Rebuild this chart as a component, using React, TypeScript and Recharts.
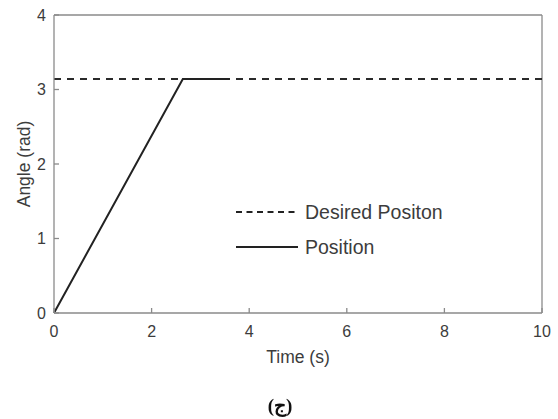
import React from "react";
import { LineChart, Line, XAxis, YAxis, ReferenceLine, Legend } from "recharts";

const xTicks = [0, 2, 4, 6, 8, 10];
const yTicks = [0, 1, 2, 3, 4];
const desiredT = [0, 10];
const desiredValue = [3.1416, 3.1416];
const positionT = [0, 2.64, 3.6];
const positionValue = [0, 3.1416, 3.1416];
const seriesNames = ["Desired Positon", "Position"];

const desiredData = desiredT.map((t, i) => ({ t, v: desiredValue[i] }));
const positionData = positionT.map((t, i) => ({ t, v: positionValue[i] }));

const AXIS = "#8a8a8a";
const TEXT = "#3c3c3c";
const FONT = "'Liberation Sans', Arial, sans-serif";

const XLabel = () => (
  <text x={298} y={363} textAnchor="middle" fontSize={17.5} fill={TEXT} fontFamily={FONT}>
    Time (s)
  </text>
);
const YLabel = () => (
  <text
    x={24}
    y={164}
    textAnchor="middle"
    fontSize={17.5}
    fill={TEXT}
    fontFamily={FONT}
    transform="rotate(-90 24 164)"
    dy={6}
  >
    Angle (rad)
  </text>
);

const LegendBox = () => (
  <svg width={240} height={70} style={{ display: "block" }}>
    <line x1={6} y1={17} x2={68} y2={17} stroke="#222" strokeWidth={2} strokeDasharray="6 4.5" />
    <text x={75} y={24} fontSize={19.5} fill={TEXT} fontFamily={FONT}>
      {seriesNames[0]}
    </text>
    <line x1={6} y1={52} x2={68} y2={52} stroke="#222" strokeWidth={2} />
    <text x={75} y={59} fontSize={19.5} fill={TEXT} fontFamily={FONT}>
      {seriesNames[1]}
    </text>
  </svg>
);

export default function App() {
  return (
    <div style={{ position: "fixed", left: 0, top: 0, width: 558, height: 419, background: "#fff" }}>
      <LineChart width={558} height={419} margin={{ top: 15, right: 16, left: 0, bottom: 0 }}>
        <XAxis
          dataKey="t"
          type="number"
          domain={[0, 10]}
          ticks={xTicks}
          allowDuplicatedCategory={false}
          height={106}
          stroke={AXIS}
          strokeWidth={1.3}
          tickSize={-5}
          tickMargin={18}
          tick={{ fill: TEXT, fontSize: 16, fontFamily: FONT }}
          label={<XLabel />}
        />
        <YAxis
          type="number"
          domain={[0, 4]}
          ticks={yTicks}
          width={54}
          stroke={AXIS}
          strokeWidth={1.3}
          tickSize={-5}
          tickMargin={13}
          tick={{ fill: TEXT, fontSize: 16, fontFamily: FONT }}
          label={<YLabel />}
        />
        <ReferenceLine y={4} stroke={AXIS} strokeWidth={1.3} />
        <ReferenceLine x={10} stroke={AXIS} strokeWidth={1.3} />
        <Line
          data={desiredData}
          dataKey="v"
          name={seriesNames[0]}
          stroke="#2a2a2a"
          strokeWidth={2}
          strokeDasharray="7 6"
          dot={false}
          isAnimationActive={false}
        />
        <Line
          data={positionData}
          dataKey="v"
          name={seriesNames[1]}
          stroke="#222"
          strokeWidth={2}
          dot={false}
          isAnimationActive={false}
        />
        <Legend
          layout="vertical"
          align="center"
          verticalAlign="middle"
          content={() => <LegendBox />}
          wrapperStyle={{ position: "absolute", left: 230, top: 195, width: 240 }}
        />
      </LineChart>
      <div
        style={{
          position: "absolute",
          left: 0,
          width: 560,
          top: 394,
          textAlign: "center",
          fontFamily: "'Liberation Serif', 'DejaVu Serif', serif",
          fontWeight: "bold",
          fontSize: 19,
          color: "#111",
          lineHeight: "24px",
        }}
      >
        (ج)
      </div>
    </div>
  );
}
